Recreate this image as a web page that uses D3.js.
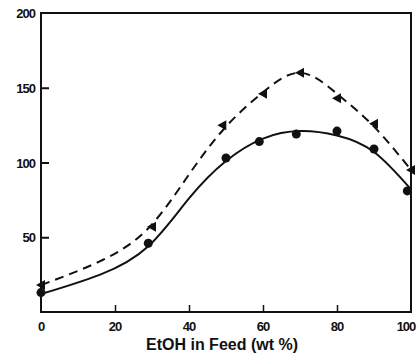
<!DOCTYPE html>
<html>
<head>
<meta charset="utf-8">
<script src="https://cdn.jsdelivr.net/npm/d3@7"></script>
<style>
  body { margin: 0; background: #fff; }
  svg text { font-family: "Liberation Sans", Arial, sans-serif; font-weight: bold; fill: #111; }
</style>
</head>
<body>
<svg width="417" height="357"></svg>
<script>
// measured points
var circleX = [0, 29, 50, 59, 69, 80, 90, 99];
var circleY = [13, 46, 103, 114, 119, 121, 109, 81];
var triX = [0, 30, 49, 60, 70, 80, 90, 100];
var triY = [18, 57, 125, 146, 160, 143, 126, 95];

// fitted curves
var fitX = [0, 16, 29, 40, 50, 60, 70, 80, 90, 100];
var solidFit = [12, 25, 44, 76, 101, 116, 121, 118, 107, 82];
var dashFit = [18, 34, 56, 92, 124, 147, 160, 146, 124, 95];

var xTicks = [0, 20, 40, 60, 80, 100];
var yTicks = [50, 100, 150, 200];

var svg = d3.select("svg"),
  plotL = 41, plotR = 411, plotT = 13, plotB = 312;

var x = d3.scaleLinear().domain([0, 100]).range([plotL, plotR]);
var y = d3.scaleLinear().domain([0, 200]).range([plotB, plotT]);

// frame
svg.append("rect")
  .attr("x", plotL).attr("y", plotT)
  .attr("width", plotR - plotL).attr("height", plotB - plotT)
  .attr("fill", "none").attr("stroke", "#111").attr("stroke-width", 2);

// y axis (ticks inward)
svg.append("g")
  .attr("transform", "translate(" + plotL + ",0)")
  .call(d3.axisRight(y).tickValues(yTicks.slice(0, 3)).tickSize(8).tickFormat(""))
  .call(function(g) { g.select(".domain").remove(); g.selectAll("line").attr("stroke", "#111").attr("stroke-width", 2); });

svg.selectAll(".ylab")
  .data(yTicks)
  .enter().append("text")
  .attr("x", plotL - 6)
  .attr("y", function(d) { return y(d) + 5; })
  .attr("text-anchor", "end")
  .attr("font-size", 13)
  .attr("letter-spacing", -1)
  .text(function(d) { return d; });

// x axis (ticks inward)
svg.append("g")
  .attr("transform", "translate(0," + plotB + ")")
  .call(d3.axisTop(x).tickValues(xTicks.slice(1, 5)).tickSize(7).tickFormat(""))
  .call(function(g) { g.select(".domain").remove(); g.selectAll("line").attr("stroke", "#111").attr("stroke-width", 1.5); });

svg.selectAll(".xlab")
  .data(xTicks)
  .enter().append("text")
  .attr("x", function(d) { return x(d) - (d == 100 ? 5 : 0); })
  .attr("y", plotB + 19)
  .attr("text-anchor", "middle")
  .attr("font-size", 13)
  .attr("letter-spacing", -1)
  .text(function(d) { return d; });

svg.append("text")
  .attr("x", 222).attr("y", 350)
  .attr("text-anchor", "middle")
  .attr("font-size", 16)
  .text("EtOH in Feed (wt %)");

// curves
var line = d3.line()
  .x(function(d) { return x(d[0]); })
  .y(function(d) { return y(d[1]); })
  .curve(d3.curveNatural);

svg.append("path")
  .attr("d", line(d3.zip(fitX, solidFit)))
  .attr("fill", "none").attr("stroke", "#111").attr("stroke-width", 2);

svg.append("path")
  .attr("d", line(d3.zip(fitX, dashFit)))
  .attr("fill", "none").attr("stroke", "#111").attr("stroke-width", 2)
  .attr("stroke-dasharray", "9,6");

// markers
svg.selectAll(".dot")
  .data(d3.zip(circleX, circleY))
  .enter().append("circle")
  .attr("cx", function(d) { return x(d[0]); })
  .attr("cy", function(d) { return y(d[1]); })
  .attr("r", 4.5)
  .attr("fill", "#111");

svg.selectAll(".tri")
  .data(d3.zip(triX, triY))
  .enter().append("path")
  .attr("transform", function(d) { return "translate(" + x(d[0]) + "," + y(d[1]) + ")"; })
  .attr("d", "M-5,0L4,-5L4,5Z")
  .attr("fill", "#111");
</script>
</body>
</html>
